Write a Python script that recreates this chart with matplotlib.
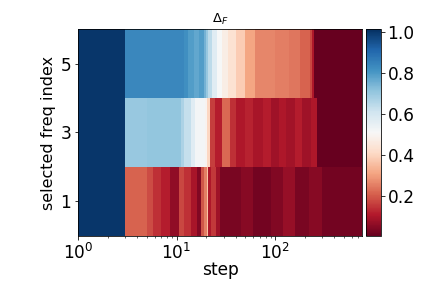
import numpy as np
import matplotlib
matplotlib.use('Agg')
import matplotlib.pyplot as plt

# rows of the heatmap: selected freq index 1, 3, 5 (each row spans 2 units)
row_index = [1, 3, 5]

# step edges and values for each row
idx1_edges = [1, 3, 5, 5.8, 7, 8.5, 10.5, 12, 14, 16, 17.5, 19, 20.2, 21, 22.5,
              25, 27.5, 45, 60, 90, 120, 160, 220, 300, 765]
idx1_vals = [1.0, 0.21, 0.18, 0.14, 0.11, 0.06, 0.17, 0.14, 0.09, 0.04, 0.19,
             0.25, 0.36, 0.1, 0.15, 0.08, 0.03, 0.05, 0.02, 0.04, 0.07, 0.03,
             0.05, 0.02]

idx3_edges = [1, 3, 5, 11, 12, 14, 15.5, 19.5, 20.4, 22, 24.6, 29, 35, 40, 50,
              60, 75, 90, 110, 130, 160, 190, 230, 265, 765]
idx3_vals = [1.0, 0.70, 0.71, 0.67, 0.63, 0.57, 0.52, 0.49, 0.4, 0.16, 0.11,
             0.22, 0.14, 0.1, 0.12, 0.09, 0.11, 0.08, 0.1, 0.085, 0.11, 0.08,
             0.1, 0.005]

idx5_edges = [1, 3, 12, 13, 15, 17, 19, 20, 21, 23, 26, 29, 33, 40, 49, 63, 100,
              140, 180, 227, 240, 250, 765]
idx5_vals = [1.0, 0.84, 0.82, 0.79, 0.77, 0.79, 0.75, 0.7, 0.64, 0.57, 0.51,
             0.47, 0.43, 0.38, 0.31, 0.26, 0.25, 0.24, 0.21, 0.17, 0.1, 0.005]

VMIN, VMAX = 0.003, 1.015

fig = plt.figure(figsize=(6, 4), dpi=72)
ax = fig.add_axes([0.181, 0.181, 0.657, 0.718])
cax = fig.add_axes([0.847, 0.181, 0.034, 0.718])

rows = [(idx1_edges, idx1_vals), (idx3_edges, idx3_vals), (idx5_edges, idx5_vals)]
for r, (edges, vals) in zip(row_index, rows):
    mesh = ax.pcolormesh(edges, [r - 1, r + 1], np.array([vals]),
                         cmap='RdBu', vmin=VMIN, vmax=VMAX)

ax.set_xscale('log')
ax.set_xlim(1, 765)
ax.set_ylim(0, 6)
ax.set_yticks(row_index)
ax.tick_params(labelsize=17)
ax.set_xlabel('step', fontsize=17, labelpad=-2)
ax.set_ylabel('selected freq index', fontsize=16)
ax.set_title(r'$\Delta_F$', fontsize=13)

cb = fig.colorbar(mesh, cax=cax)
cb.set_ticks([0.2, 0.4, 0.6, 0.8, 1.0])
cb.ax.tick_params(labelsize=17)

fig.savefig('out.png', dpi=72)
